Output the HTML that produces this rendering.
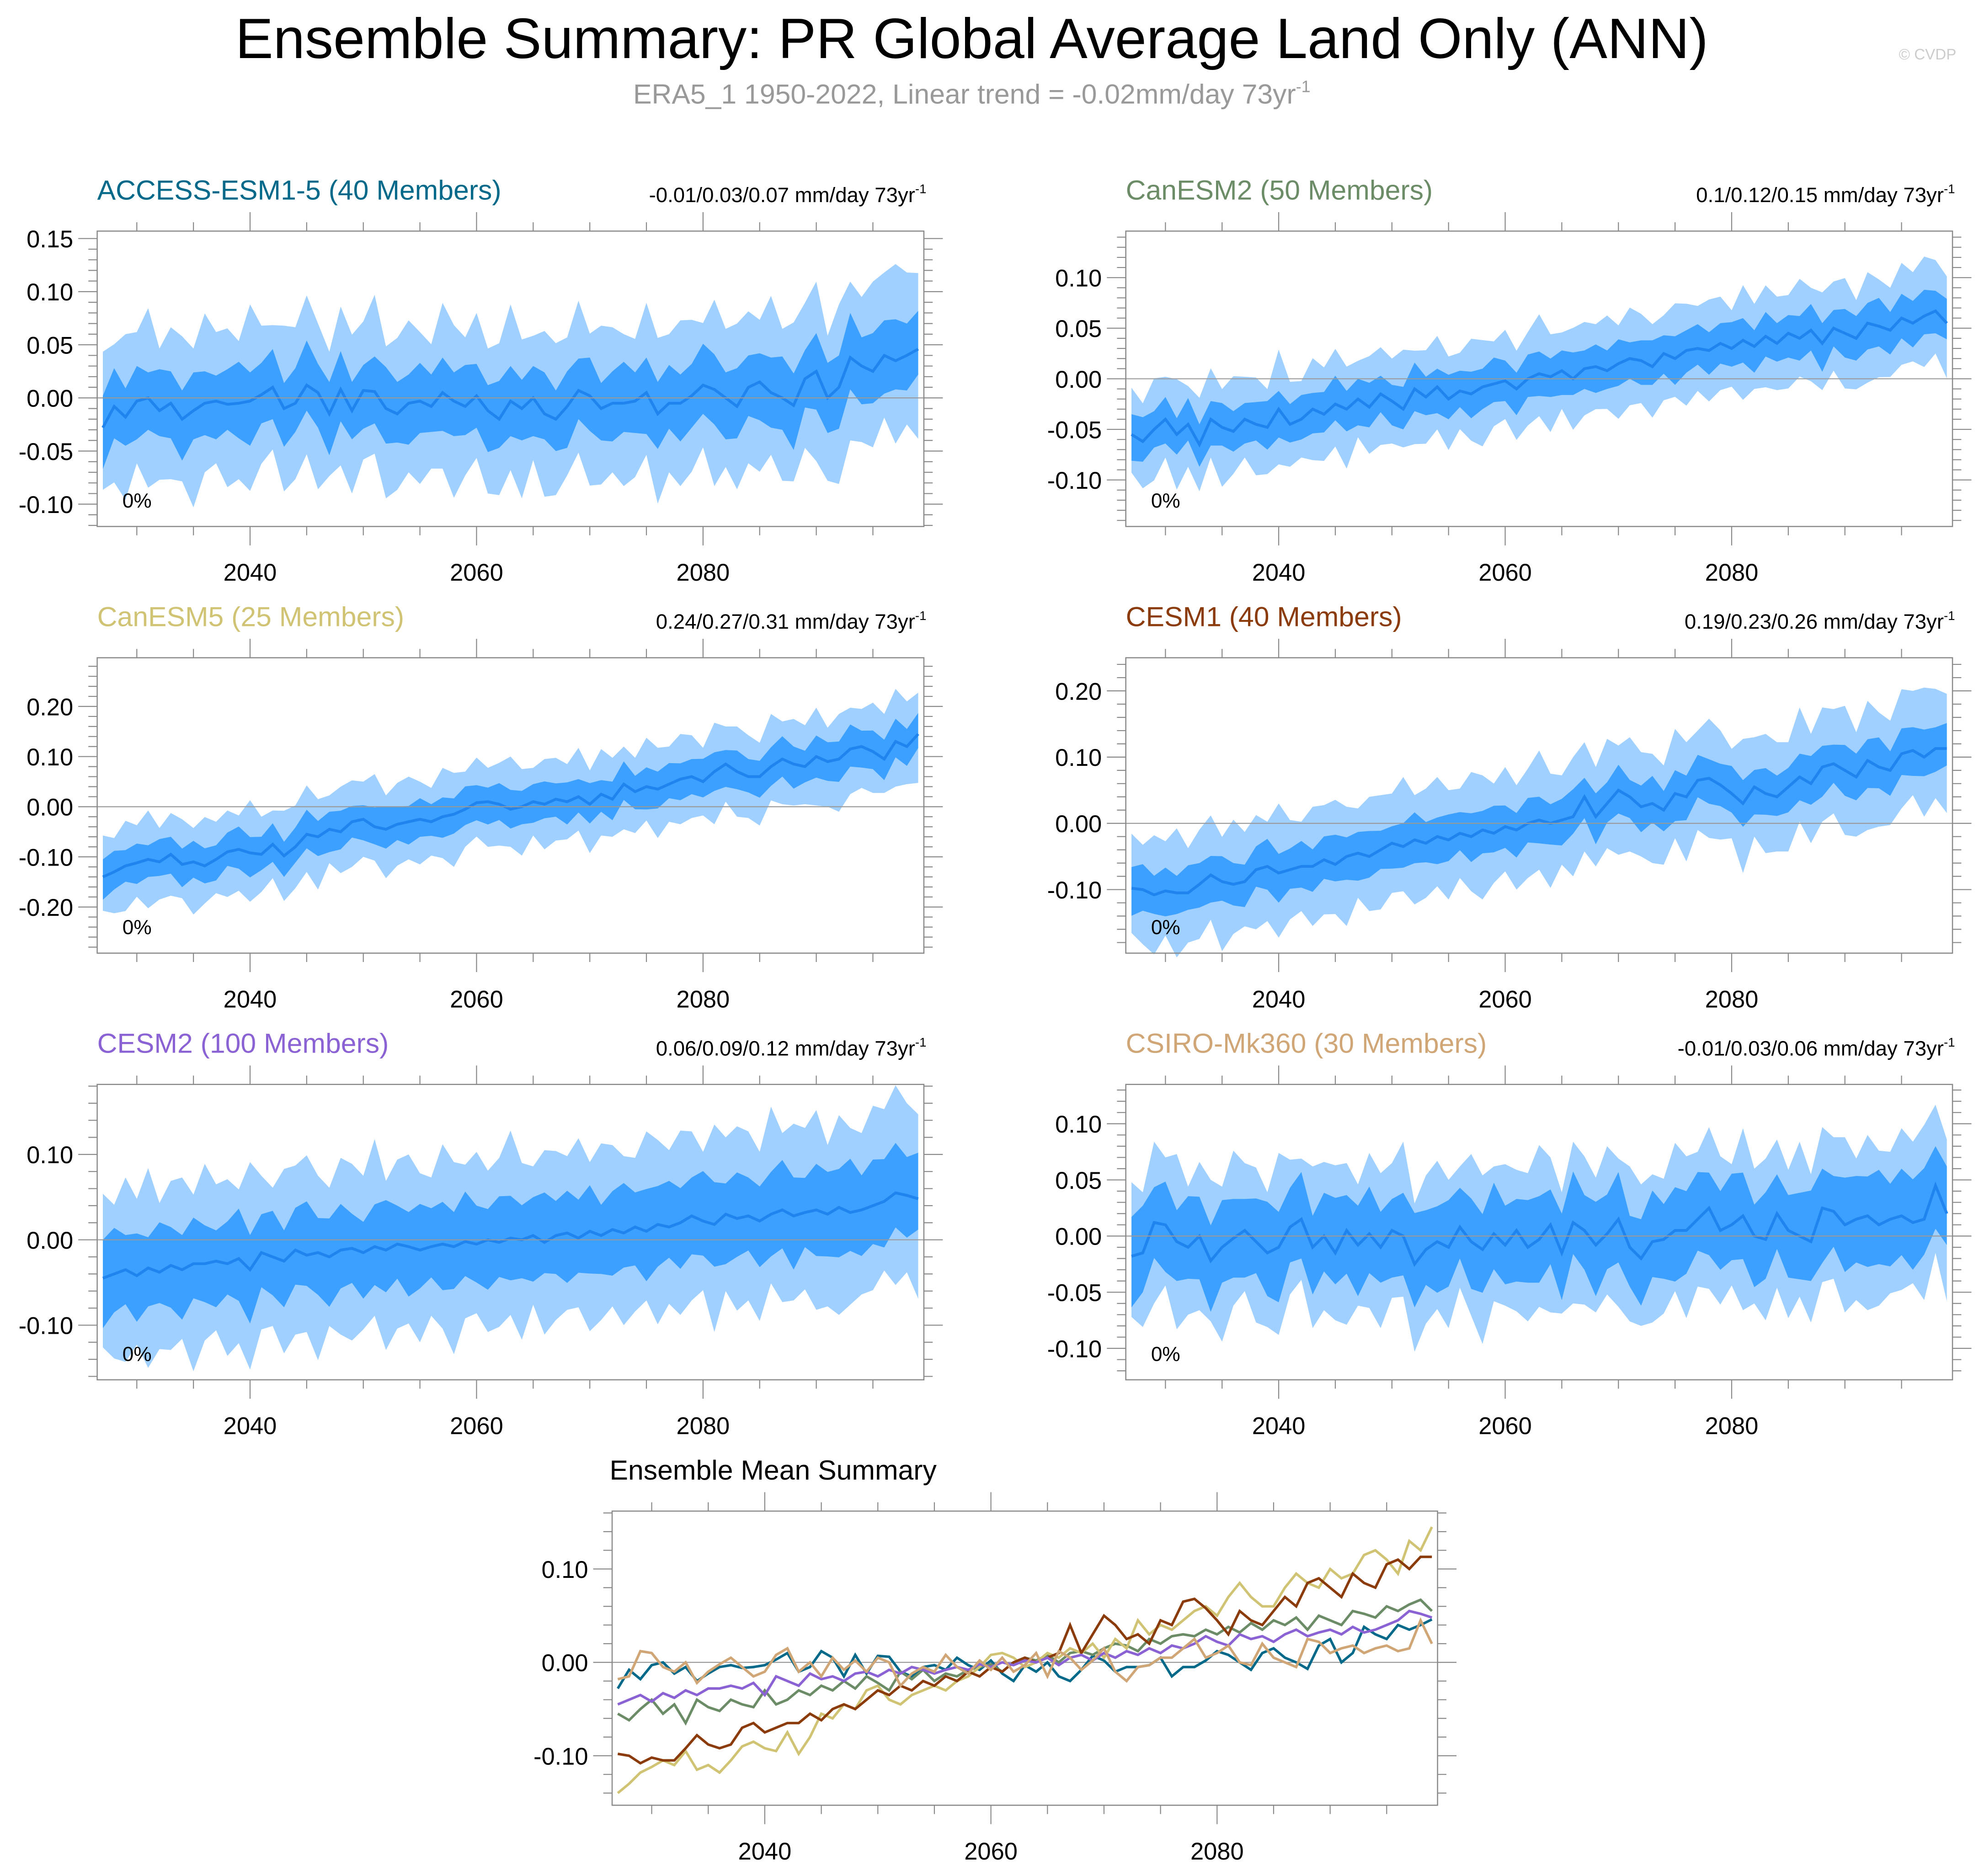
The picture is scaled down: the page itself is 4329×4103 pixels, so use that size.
<!DOCTYPE html>
<html><head><meta charset="utf-8"><style>
html,body{margin:0;padding:0;background:#fff}
svg{display:block}
text{font-family:"Liberation Sans",sans-serif}
</style></head><body>
<svg id="chart" width="4329" height="4103" viewBox="0 0 1568 1486" xmlns="http://www.w3.org/2000/svg">
<text x="770" y="46" font-size="45" text-anchor="middle">Ensemble Summary: PR Global Average Land Only (ANN)</text>
<text x="770" y="82" font-size="22" fill="#999" text-anchor="middle">ERA5_1 1950-2022, Linear trend = -0.02mm/day 73yr<tspan font-size="13" dy="-9">-1</tspan></text>
<text x="1550" y="47" font-size="12" fill="#ccc" text-anchor="end">© CVDP</text>
</svg>
<script>
const years = [];
for (let y = 2027; y <= 2099; y++) years.push(y);
const xTicks = [2040, 2060, 2080];

const accessMean = [-0.028,-0.008,-0.018,-0.003,0.000,-0.012,-0.005,-0.020,-0.012,-0.005,
-0.003,-0.006,-0.005,-0.003,0.003,0.010,-0.010,-0.005,0.012,0.005,
-0.015,0.008,-0.012,0.007,0.006,-0.010,-0.015,-0.005,-0.003,-0.008,
0.005,-0.003,-0.008,0.002,-0.012,-0.020,-0.003,-0.010,0.000,-0.015,
-0.020,-0.008,0.007,0.002,-0.010,-0.005,-0.005,-0.003,0.005,-0.015,
-0.005,-0.005,0.002,0.012,0.008,0.000,-0.008,0.010,0.015,0.005,
0.000,-0.007,0.018,0.025,0.000,0.010,0.038,0.030,0.025,0.040,
0.035,0.040,0.046];
const canesm2Mean = [-0.055,-0.062,-0.050,-0.040,-0.055,-0.045,-0.065,-0.040,-0.048,-0.052,
-0.040,-0.045,-0.048,-0.030,-0.045,-0.040,-0.030,-0.035,-0.025,-0.030,
-0.020,-0.028,-0.015,-0.022,-0.030,-0.010,-0.018,-0.008,-0.020,-0.012,
-0.015,-0.008,-0.005,-0.002,-0.010,0.000,0.005,0.002,0.008,0.000,
0.010,0.012,0.008,0.015,0.020,0.018,0.012,0.025,0.020,0.028,
0.030,0.028,0.035,0.030,0.038,0.032,0.042,0.035,0.045,0.040,
0.048,0.035,0.050,0.045,0.040,0.055,0.052,0.048,0.060,0.055,
0.062,0.067,0.055];
const canesm5Mean = [-0.140,-0.130,-0.118,-0.112,-0.105,-0.110,-0.095,-0.115,-0.110,-0.118,
-0.105,-0.090,-0.085,-0.092,-0.095,-0.075,-0.098,-0.080,-0.055,-0.060,
-0.045,-0.050,-0.030,-0.025,-0.040,-0.045,-0.035,-0.030,-0.025,-0.030,
-0.020,-0.015,-0.005,0.008,0.010,0.005,-0.005,0.000,0.010,0.005,
0.015,0.010,0.020,0.005,0.025,0.015,0.045,0.030,0.040,0.035,
0.045,0.055,0.060,0.050,0.070,0.085,0.070,0.060,0.060,0.080,
0.095,0.085,0.080,0.100,0.090,0.095,0.115,0.120,0.110,0.095,
0.130,0.120,0.145];
const cesm1Mean = [-0.098,-0.100,-0.108,-0.102,-0.105,-0.105,-0.092,-0.078,-0.088,-0.092,
-0.088,-0.070,-0.065,-0.075,-0.070,-0.065,-0.065,-0.055,-0.062,-0.050,
-0.045,-0.050,-0.040,-0.030,-0.035,-0.025,-0.030,-0.020,-0.025,-0.015,
-0.020,-0.010,-0.015,-0.005,-0.010,0.000,0.005,0.000,0.005,0.010,
0.040,0.010,0.030,0.050,0.040,0.025,0.030,0.020,0.045,0.040,
0.065,0.068,0.058,0.045,0.030,0.055,0.045,0.040,0.055,0.070,
0.060,0.085,0.090,0.080,0.070,0.095,0.085,0.080,0.105,0.110,
0.100,0.113,0.113];
const cesm2Mean = [-0.045,-0.040,-0.035,-0.042,-0.033,-0.038,-0.030,-0.035,-0.028,-0.028,
-0.025,-0.028,-0.022,-0.035,-0.015,-0.020,-0.025,-0.012,-0.018,-0.015,
-0.020,-0.012,-0.010,-0.015,-0.008,-0.012,-0.005,-0.008,-0.012,-0.008,
-0.005,-0.008,-0.002,-0.005,0.000,-0.003,0.002,0.000,0.005,-0.003,
0.005,0.008,0.002,0.010,0.005,0.012,0.008,0.015,0.010,0.018,
0.015,0.020,0.028,0.022,0.018,0.030,0.025,0.028,0.022,0.030,
0.035,0.028,0.032,0.035,0.030,0.038,0.032,0.035,0.040,0.045,
0.055,0.052,0.048];
const csiroMean = [-0.018,-0.015,0.012,0.010,-0.005,-0.010,0.000,-0.022,-0.010,-0.002,
0.005,-0.005,-0.015,-0.010,0.008,0.015,-0.010,0.000,-0.015,0.005,
-0.008,0.002,-0.010,0.005,0.000,-0.025,-0.012,-0.005,-0.010,0.008,
-0.005,-0.012,0.002,-0.008,0.005,-0.010,-0.003,0.010,-0.015,0.012,
0.005,-0.008,0.002,0.015,-0.010,-0.020,-0.005,-0.003,0.005,0.005,
0.015,0.025,0.005,0.010,0.018,0.000,-0.003,0.020,0.005,0.000,
-0.005,0.025,0.022,0.010,0.015,0.018,0.010,0.015,0.018,0.012,
0.015,0.045,0.020];

const innerPattern = [1.0,1.2,0.9,1.1,0.8,1.3,1.0,0.9,1.2,1.0, 0.8,1.1,1.3,0.9,1.0,1.2,0.8,1.1,1.4,0.9,
1.0,1.2,0.9,0.8,1.1,1.3,1.0,0.9,1.2,1.0, 1.1,0.9,1.3,1.0,0.8,1.2,1.1,0.9,1.0,1.3,
0.9,1.1,1.0,1.2,0.8,1.0,1.3,0.9,1.1,1.0, 1.2,0.9,1.0,1.3,1.1,0.8,1.2,1.0,0.9,1.1,
1.3,1.0,0.9,1.2,1.1,1.0,1.4,0.9,1.2,1.1, 1.3,1.0,1.2];
const outerPattern = [1.1,0.9,1.2,1.0,1.3,0.9,1.1,1.2,0.9,1.3, 1.0,1.1,0.9,1.4,1.0,0.9,1.2,1.1,1.3,1.0,
0.9,1.2,1.1,1.0,1.4,0.9,1.1,1.2,1.0,0.9, 1.3,1.1,1.0,1.2,0.9,1.1,1.4,1.0,0.9,1.2,
1.1,1.0,1.3,0.9,1.2,1.1,1.0,0.9,1.3,1.1, 1.0,1.2,1.1,0.9,1.3,1.0,1.2,1.1,0.9,1.4,
1.0,1.2,1.1,1.3,0.9,1.2,1.1,1.0,1.3,1.2, 1.4,1.2,1.1];

const modelNames = ["ACCESS-ESM1-5 (40 Members)","CanESM2 (50 Members)","CanESM5 (25 Members)","CESM1 (40 Members)","CESM2 (100 Members)","CSIRO-Mk360 (30 Members)"];
const modelColors = ["#00698a","#6b8c66","#d0c474","#8b3a0a","#8a62d4","#d0a676"];
const modelStats = ["-0.01/0.03/0.07","0.1/0.12/0.15","0.24/0.27/0.31","0.19/0.23/0.26","0.06/0.09/0.12","-0.01/0.03/0.06"];
const innerWidth = [0.03,0.02,0.035,0.032,0.045,0.035];
const outerWidth = [0.065,0.042,0.075,0.075,0.09,0.06];
const yRanges = [[-0.121,0.157],[-0.146,0.146],[-0.292,0.297],[-0.196,0.25],[-0.164,0.182],[-0.128,0.135]];
const yTickSets = [[0.15,0.10,0.05,0.00,-0.05,-0.10],[0.10,0.05,0.00,-0.05,-0.10],[0.20,0.10,0.00,-0.10,-0.20],[0.20,0.10,0.00,-0.10],[0.10,0.00,-0.10],[0.10,0.05,0.00,-0.05,-0.10]];
const minorSteps = [0.01,0.01,0.02,0.02,0.02,0.01];
const means = [accessMean,canesm2Mean,canesm5Mean,cesm1Mean,cesm2Mean,csiroMean];
const summaryRange = [-0.153,0.162];
const summaryTicks = [0.10,0.00,-0.10];

const svg = document.getElementById('chart');
const NS = "http://www.w3.org/2000/svg";
function el(tag, attrs, parent) {
  const e = document.createElementNS(NS, tag);
  for (const k in attrs) e.setAttribute(k, attrs[k]);
  (parent || svg).appendChild(e);
  return e;
}
const slots = [[77,183],[892,183],[77,521],[892,521],[77,859],[892,859]];
const PW = 655, PH = 234;

function axes(g, x0, y0, w, h, ymin, ymax, ticks, minor, ys) {
  const xs = yr => x0 + (yr - 2026.5) / 73 * w;
  for (let yr = 2030; yr <= 2095; yr += 5) {
    const major = yr % 20 === 0;
    const L = major ? 15 : 7;
    const tt = el('line', {x1: xs(yr), x2: xs(yr), y1: y0, y2: y0 - L, stroke: '#888', 'stroke-width': 0.8}, g);
    
    
    const tb = el('line', {x1: xs(yr), x2: xs(yr), y1: y0 + h, y2: y0 + h + L, stroke: '#888', 'stroke-width': 0.8}, g);
    
    
  }
  xTicks.forEach(yr => {
    const t = el('text', {x: xs(yr), y: y0 + h + 43, 'font-size': 19, 'text-anchor': 'middle'}, g);
    
    
    t.textContent = yr;
  });
  const n0 = Math.ceil(ymin / minor - 1e-6), n1 = Math.floor(ymax / minor + 1e-6);
  for (let n = n0; n <= n1; n++) {
    const v = n * minor;
    const isMajor = ticks.some(t => Math.abs(t - v) < 1e-6);
    const L = isMajor ? 15 : 7;
    for (const side of [0, 1]) {
      const xa = side ? x0 + w : x0, xb = side ? x0 + w + L : x0 - L;
      const ln = el('line', {x1: xa, x2: xb, y1: ys(v), y2: ys(v), stroke: '#888', 'stroke-width': 0.8}, g);
      
      
    }
  }
  ticks.forEach(v => {
    const t = el('text', {x: x0 - 19, y: ys(v) + 7, 'font-size': 19, 'text-anchor': 'end'}, g);
    
    
    t.textContent = v.toFixed(2);
  });
  const z = el('line', {x1: x0, x2: x0 + w, y1: ys(0), y2: ys(0), stroke: '#999', 'stroke-width': 0.8}, g);
  
  
  const f = el('rect', {x: x0, y: y0, width: w, height: h, fill: 'none', stroke: '#888', 'stroke-width': 0.9}, g);
  
  
  return xs;
}

means.forEach((m, k) => {
  const [x0, y0] = slots[k];
  const [ymin, ymax] = yRanges[k];
  const ys = v => y0 + PH - (v - ymin) / (ymax - ymin) * PH;
  const g = el('g', {});
  
  
  const xs = yr => x0 + (yr - 2026.5) / 73 * PW;
  const band = (wArr, wScale, fill, name) => {
    let up = [], lo = [];
    m.forEach((v, i) => {
      up.push(xs(years[i]) + ',' + ys(v + wScale * wArr[i]));
      lo.push(xs(years[i]) + ',' + ys(v - wScale * wArr[(i + 5) % wArr.length]));
    });
    const p = el('polygon', {points: up.concat(lo.reverse()).join(' '), fill: fill}, g);
    
    
  };
  band(outerPattern, outerWidth[k], '#a0d0ff', 'outer-spread-band');
  band(innerPattern, innerWidth[k], '#3ba0ff', 'inner-spread-band');
  const line = el('polyline', {points: m.map((v, i) => xs(years[i]) + ',' + ys(v)).join(' '), fill: 'none', stroke: '#1f84ee', 'stroke-width': 2.2}, g);
  
  
  axes(g, x0, y0, PW, PH, ymin, ymax, yTickSets[k], minorSteps[k], ys);
  const t = el('text', {x: x0, y: y0 - 25, 'font-size': 22, fill: modelColors[k]}, g);
  
  
  t.textContent = modelNames[k];
  const s = el('text', {x: x0 + PW + 2, y: y0 - 23, 'font-size': 16.5, 'text-anchor': 'end'}, g);
  
  
  s.innerHTML = modelStats[k] + ' mm/day 73yr<tspan font-size="10" dy="-7">-1</tspan>';
  const pc = el('text', {x: x0 + 20, y: y0 + PH - 15, 'font-size': 16}, g);
  
  
  pc.textContent = '0%';
});

(function () {
  const x0 = 485, y0 = 1197, w = 654, h = 233;
  const [ymin, ymax] = summaryRange;
  const ys = v => y0 + h - (v - ymin) / (ymax - ymin) * h;
  const xs = yr => x0 + (yr - 2026.5) / 73 * w;
  const g = el('g', {});
  
  
  axes(g, x0, y0, w, h, ymin, ymax, summaryTicks, 0.02, ys);
  means.forEach((m, k) => {
    const p = el('polyline', {points: m.map((v, i) => xs(years[i]) + ',' + ys(v)).join(' '), fill: 'none', stroke: modelColors[k], 'stroke-width': 2}, g);
    
    
  });
  const t = el('text', {x: x0 - 2, y: y0 - 25, 'font-size': 22}, g);
  
  
  t.textContent = 'Ensemble Mean Summary';
})();
</script>
</body></html>
